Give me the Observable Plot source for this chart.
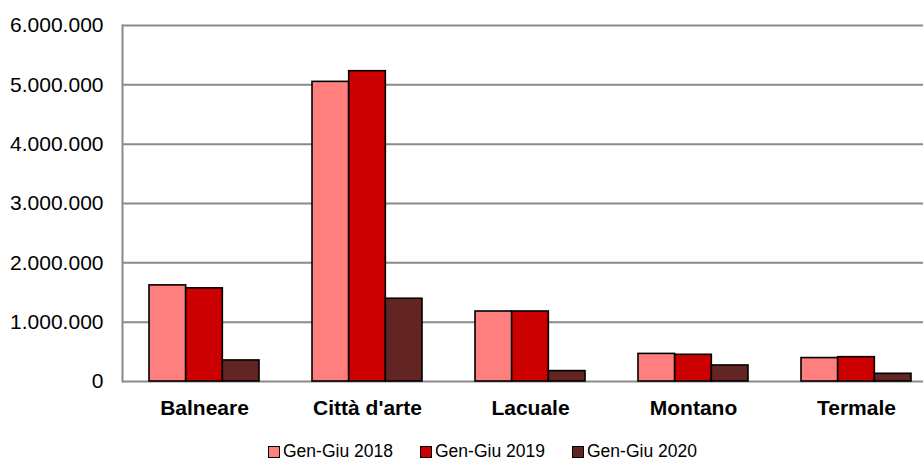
<!DOCTYPE html>
<html>
<head>
<meta charset="utf-8">
<script src="https://cdn.jsdelivr.net/npm/d3@7"></script>
<script src="https://cdn.jsdelivr.net/npm/@observablehq/plot@0.6"></script>
<style>
  body { margin: 0; background: #fff; font-family: "Liberation Sans", Arial, sans-serif; }
  #wrap { position: relative; width: 923px; height: 461px; overflow: hidden; }
  #legend { position: absolute; left: 0; top: 443px; width: 923px; height: 17px; font-size: 17.5px; line-height: 17px; color: #000; }
  .item { position: absolute; top: 0; display: flex; align-items: center; height: 17px; }
  .sw { width: 10px; height: 10px; border: 1px solid #000; margin-right: 3px; box-sizing: content-box; }
</style>
</head>
<body>
<div id="wrap"><div id="chart"></div><div id="legend"></div></div>
<script>
const categories = ["Balneare", "Città d'arte", "Lacuale", "Montano", "Termale"];
const seriesNames = ["Gen-Giu 2018", "Gen-Giu 2019", "Gen-Giu 2020"];
const colors = ["#FF7F7F", "#CC0000", "#632523"];
const values2018 = [1620000, 5050000, 1180000, 465000, 395000];
const values2019 = [1570000, 5230000, 1180000, 450000, 410000];
const values2020 = [355000, 1395000, 175000, 270000, 130000];
const yTicks = [0, 1000000, 2000000, 3000000, 4000000, 5000000, 6000000];

const seriesValues = [values2018, values2019, values2020];
const rows = [];
seriesValues.forEach((vals, s) => vals.forEach((v, i) => rows.push({category: categories[i], series: seriesNames[s], value: v})));

const it = d3.formatLocale({decimal: ",", thousands: ".", grouping: [3], currency: ["€", ""]});
const fmt = it.format(",d");

const xOpts = {type: "band", domain: categories, range: [122.5, 937.5], paddingInner: 0.325, paddingOuter: 0.1625, align: 0.5};
const bw = Plot.scale({x: xOpts}).bandwidth;

const bars = seriesNames.map((name, s) => Plot.barY(rows.filter(d => d.series === name), {
  x: "category", y: "value", fill: colors[s], stroke: "#000", strokeWidth: 1.6,
  insetLeft: bw * s / 3, insetRight: bw * (2 - s) / 3
}));

const chart = Plot.plot({
  width: 923, height: 432,
  marginLeft: 122, marginRight: 0, marginTop: 25, marginBottom: 51,
  style: {fontFamily: "'Liberation Sans', Arial, sans-serif", background: "#fff", color: "#000"},
  x: {...xOpts, axis: null},
  y: {domain: [0, 6000000], axis: null},
  marks: [
    Plot.ruleY(yTicks, {stroke: "#8a8a8a", strokeWidth: 2}),
    Plot.frame({anchor: "left", stroke: "#8a8a8a", strokeWidth: 2}),
    ...bars,
    Plot.axisY({ticks: yTicks, tickFormat: fmt, tickSize: 0, tickPadding: 19, fontSize: 21, label: null}),
    Plot.axisX({tickSize: 0, tickPadding: 19, fontSize: 21, fontWeight: "bold", label: null})
  ]
});
document.getElementById("chart").appendChild(chart);

const legend = document.getElementById("legend");
const lefts = [268, 420, 572];
seriesNames.forEach((name, s) => {
  const item = document.createElement("div");
  item.className = "item";
  item.style.left = lefts[s] + "px";
  const sw = document.createElement("div");
  sw.className = "sw";
  sw.style.background = colors[s];
  const t = document.createElement("span");
  t.textContent = name;
  item.appendChild(sw); item.appendChild(t);
  legend.appendChild(item);
});
</script>
</body>
</html>
